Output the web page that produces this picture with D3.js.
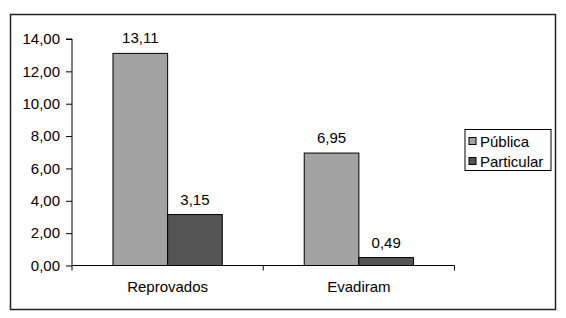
<!DOCTYPE html>
<html><head><meta charset="utf-8">
<script src="https://cdn.jsdelivr.net/npm/d3@7"></script>
<style>body{margin:0;background:#fff}svg{display:block}text{font-family:"Liberation Sans",Arial,sans-serif}</style>
</head><body>
<svg id="c" width="566" height="318"></svg>
<script>
const categories = ["Reprovados", "Evadiram"];
const seriesNames = ["Pública", "Particular"];
const publica = [13.11, 6.95];
const particular = [3.15, 0.49];
const yTicks = [0, 2, 4, 6, 8, 10, 12, 14];
const colors = ["#a3a3a3", "#555555"];

const svg = d3.select("#c");
const fmt = v => d3.format(".2f")(v).replace(".", ",");
const fs = 15;

// outer border
svg.append("rect").attr("x", 10.5).attr("y", 14.5).attr("width", 545).attr("height", 295)
  .attr("fill", "none").attr("stroke", "#222").attr("stroke-width", 1.5);

const x0 = 72, x1 = 454.5, yBot = 265.5, yTop = 39;
const x = d3.scaleBand().domain(categories).range([x0, x1]);
const y = d3.scaleLinear().domain([0, 14]).range([yBot, yTop]);
const xs = d3.scaleBand().domain(seriesNames).range([0, x.bandwidth()]).paddingOuter(0.75).paddingInner(0);

// y axis
const yAxis = svg.append("g").attr("transform", `translate(${x0},0)`)
  .call(d3.axisLeft(y).tickValues(yTicks).tickSize(6).tickPadding(6).tickFormat(fmt));
yAxis.select(".domain").attr("stroke", "#000").attr("d", `M-6,${y(14)}H0V${yBot}`);
yAxis.selectAll(".tick line").attr("stroke", "#000");
yAxis.selectAll("text").attr("font-size", fs).attr("fill", "#000").attr("font-family", "Liberation Sans, Arial, sans-serif");

const data = categories.map((c, i) => ({c, vals: [publica[i], particular[i]]}));

const g = svg.append("g");
data.forEach(d => {
  d.vals.forEach((v, j) => {
    const bx = x(d.c) + xs(seriesNames[j]);
    g.append("rect").attr("x", bx).attr("y", y(v)).attr("width", xs.bandwidth()).attr("height", yBot - y(v))
      .attr("fill", colors[j]).attr("stroke", "#000").attr("stroke-width", 1);
    g.append("text").attr("x", bx + xs.bandwidth() / 2).attr("y", y(v) - 10)
      .attr("text-anchor", "middle").attr("font-size", fs).attr("fill", "#000").text(fmt(v));
  });
});

// x axis
const xAxis = svg.append("g").attr("transform", `translate(0,${yBot})`)
  .call(d3.axisBottom(x).tickSize(0).tickPadding(0));
xAxis.select(".domain").remove();
xAxis.selectAll(".tick text").remove();
svg.append("line").attr("x1", x0).attr("x2", x1).attr("y1", yBot).attr("y2", yBot).attr("stroke", "#000");
[x0, x0 + x.step(), x1].forEach(t => svg.append("line").attr("x1", t).attr("x2", t)
  .attr("y1", yBot).attr("y2", yBot + 5).attr("stroke", "#000"));
categories.forEach(c => svg.append("text").attr("x", x(c) + x.bandwidth() / 2).attr("y", 292)
  .attr("text-anchor", "middle").attr("font-size", fs).attr("fill", "#000").text(c));

// legend
const lg = svg.append("g");
lg.append("rect").attr("x", 465).attr("y", 129.5).attr("width", 86).attr("height", 41)
  .attr("fill", "#fff").attr("stroke", "#000");
seriesNames.forEach((s, i) => {
  const cy = 141 + i * 20;
  lg.append("rect").attr("x", 469).attr("y", cy - 3.5).attr("width", 7).attr("height", 7)
    .attr("fill", colors[i]).attr("stroke", "#000");
  lg.append("text").attr("x", 480).attr("y", cy + 5.5).attr("font-size", fs).attr("fill", "#000").text(s);
});
</script>
</body></html>
